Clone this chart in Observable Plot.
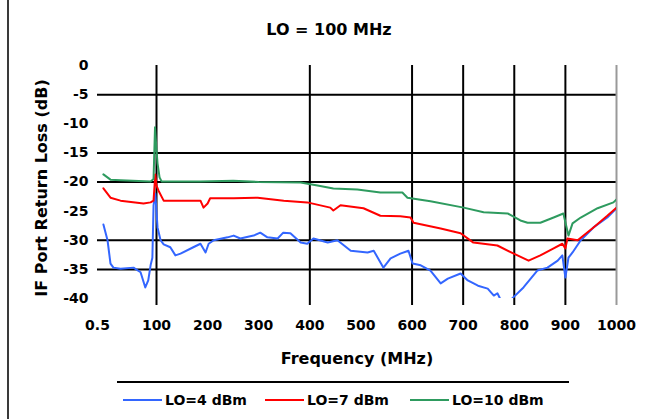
<!DOCTYPE html>
<html>
<head>
<meta charset="utf-8">
<script src="https://cdn.jsdelivr.net/npm/d3@7"></script>
<script src="https://cdn.jsdelivr.net/npm/@observablehq/plot@0.6"></script>
<style>
  html, body { margin: 0; padding: 0; background: #fff; }
  #wrap { position: relative; width: 647px; height: 419px; overflow: hidden; font-family: "DejaVu Sans", sans-serif; color: #000; }
  #border { position: absolute; left: 7px; top: 0; width: 2px; height: 419px; background: #3a3a3a; }
  #chart { position: absolute; left: 0; top: 0; }
  .lbl { position: absolute; white-space: nowrap; font-weight: bold; line-height: 20px; }
  #title { left: 329px; top: 20px; transform: translateX(-50%); font-size: 16px; }
  #xlabel { left: 357px; top: 349px; transform: translateX(-50%); font-size: 16px; }
  #ylabel { left: 42px; top: 188px; transform: translate(-50%, -50%) rotate(-90deg); font-size: 16px; }
  #legline { position: absolute; left: 117px; top: 381px; width: 452px; height: 2px; background: #000; }
  .leg { position: absolute; top: 390px; height: 20px; line-height: 20px; font-size: 14px; font-weight: bold; white-space: nowrap; display: flex; align-items: center; }
  .sw { display: inline-block; width: 39px; height: 2px; margin-right: 3px; }
</style>
</head>
<body>
<div id="wrap">
  <div id="border"></div>
  <div id="chart"></div>
  <div id="title" class="lbl"></div>
  <div id="ylabel" class="lbl"></div>
  <div id="xlabel" class="lbl"></div>
  <div id="legline"></div>
  <div id="legend"></div>
</div>
<script>
// ---- Data ----
const titleText = "LO = 100 MHz";
const xLabelText = "Frequency (MHz)";
const yLabelText = "IF Port Return Loss (dB)";

const seriesNames = ["LO=4 dBm", "LO=7 dBm", "LO=10 dBm"];
const seriesColors = ["#3366ff", "#ff0000", "#2e9b5f"];

const xTicks = [0, 100, 200, 300, 400, 500, 600, 700, 800, 900, 1000];
const xTickLabels = ["0.5", "100", "200", "300", "400", "500", "600", "700", "800", "900", "1000"];
const yTicks = [0, -5, -10, -15, -20, -25, -30, -35, -40];
const yTickLabels = ["0", "-5", "-10", "-15", "-20", "-25", "-30", "-35", "-40"];
const xGridBlack = [100, 400, 600, 700, 800, 900];
const xGridGrey = [1000];
const yGrid = [-5, -15, -20, -30, -35];

const blueFreq = [10,17,22,27,39,61,73,81,86,90,93,95,98,102,108,114,127,137,147,172,186,196,202,212,239,251,264,290,303,317,337,348,362,382,395,407,435,454,480,513,525,544,558,577,593,601,617,636,656,670,695,709,729,748,760,767,775,790,798,818,845,865,885,894,900,906,914,930,955,982,1000];
const blueDb = [-27.3,-30.0,-34.0,-34.7,-34.9,-34.7,-35.5,-38.1,-36.9,-34.3,-33.0,-24.0,-22.0,-27.8,-30.0,-30.7,-31.2,-32.6,-32.3,-31.2,-30.6,-32.1,-30.6,-30.0,-29.5,-29.2,-29.7,-29.2,-28.7,-29.5,-29.7,-28.7,-28.8,-30.4,-30.6,-29.7,-30.4,-30.0,-31.8,-32.1,-31.8,-34.7,-33.1,-32.3,-31.8,-34.0,-34.3,-35.2,-37.4,-36.6,-35.7,-36.9,-37.8,-38.3,-39.5,-39.1,-40.5,-40.5,-39.8,-38.1,-35.2,-34.7,-33.5,-32.6,-36.4,-33.0,-32.1,-30.0,-27.8,-26.1,-24.5];

const redFreq = [10,22,39,78,90,95,98,100,104,114,186,192,200,205,251,298,349,395,440,446,460,505,538,577,597,603,656,695,720,767,799,828,851,877,894,900,904,924,955,982,1000];
const redDb = [-21.1,-22.7,-23.2,-23.7,-23.5,-23.2,-18.7,-20.6,-21.5,-23.2,-23.2,-24.4,-23.7,-22.8,-22.8,-22.7,-23.2,-23.5,-24.4,-24.9,-24.0,-24.5,-25.8,-25.9,-26.1,-27.0,-28.0,-28.8,-30.4,-30.9,-32.3,-33.5,-32.6,-31.4,-30.6,-31.4,-29.7,-30.0,-27.8,-25.8,-24.4];

const greenFreq = [10,22,39,90,95,97.5,100,102,106,110,186,250,300,382,415,446,493,538,581,591,636,701,740,787,812,826,851,877,896,906,914,930,963,994,1000];
const greenDb = [-18.7,-19.6,-19.7,-19.9,-19.5,-10.6,-14.5,-16.8,-19.2,-19.9,-19.9,-19.8,-20.0,-20.1,-20.6,-21.1,-21.3,-21.8,-21.8,-22.7,-23.3,-24.4,-25.2,-25.4,-26.6,-27.0,-27.0,-26.1,-25.4,-29.2,-27.1,-26.1,-24.5,-23.5,-23.0];

// ---- Build tables ----
const zip = (fs, ds) => fs.map((f, i) => ({f, db: ds[i]}));
const series = [zip(blueFreq, blueDb), zip(redFreq, redDb), zip(greenFreq, greenDb)];

const W = 647, H = 340;
const mL = 97, mR = 31, mT = 65, mB = 42;

const plot = Plot.plot({
  width: W,
  height: H,
  marginLeft: mL,
  marginRight: mR,
  marginTop: mT,
  marginBottom: mB,
  style: {fontFamily: "DejaVu Sans, sans-serif", fontSize: "14px", fontWeight: "bold", color: "#000", background: "transparent"},
  x: {type: "linear", domain: [0, 100, 1000], range: [mL, mL + 59, W - mR], label: null},
  y: {domain: [-40, 0], label: null},
  marks: [
    Plot.ruleY(yGrid, {stroke: "#000", strokeWidth: 2}),
    Plot.ruleX(xGridBlack, {stroke: "#000", strokeWidth: 2, insetBottom: -7}),
    Plot.ruleX(xGridGrey, {stroke: "#999", strokeWidth: 2, insetBottom: -7}),
    ...series.map((s, i) => Plot.line(s, {x: "f", y: "db", stroke: seriesColors[i], strokeWidth: 2, clip: true})),
    Plot.axisY(yTicks, {label: null, tickSize: 0, tickPadding: 9, tickFormat: d => yTickLabels[yTicks.indexOf(d)]}),
    Plot.axisX(xTicks, {label: null, tickSize: 0, tickPadding: 22, tickFormat: d => xTickLabels[xTicks.indexOf(d)]})
  ]
});
document.getElementById("chart").appendChild(plot);

document.getElementById("title").textContent = titleText;
document.getElementById("xlabel").textContent = xLabelText;
document.getElementById("ylabel").textContent = yLabelText;

const legendLefts = [123, 265, 410];
const legend = document.getElementById("legend");
seriesNames.forEach((name, i) => {
  const item = document.createElement("div");
  item.className = "leg";
  item.style.left = legendLefts[i] + "px";
  const sw = document.createElement("span");
  sw.className = "sw";
  sw.style.background = seriesColors[i];
  const t = document.createElement("span");
  t.textContent = name;
  item.appendChild(sw);
  item.appendChild(t);
  legend.appendChild(item);
});
</script>
</body>
</html>
